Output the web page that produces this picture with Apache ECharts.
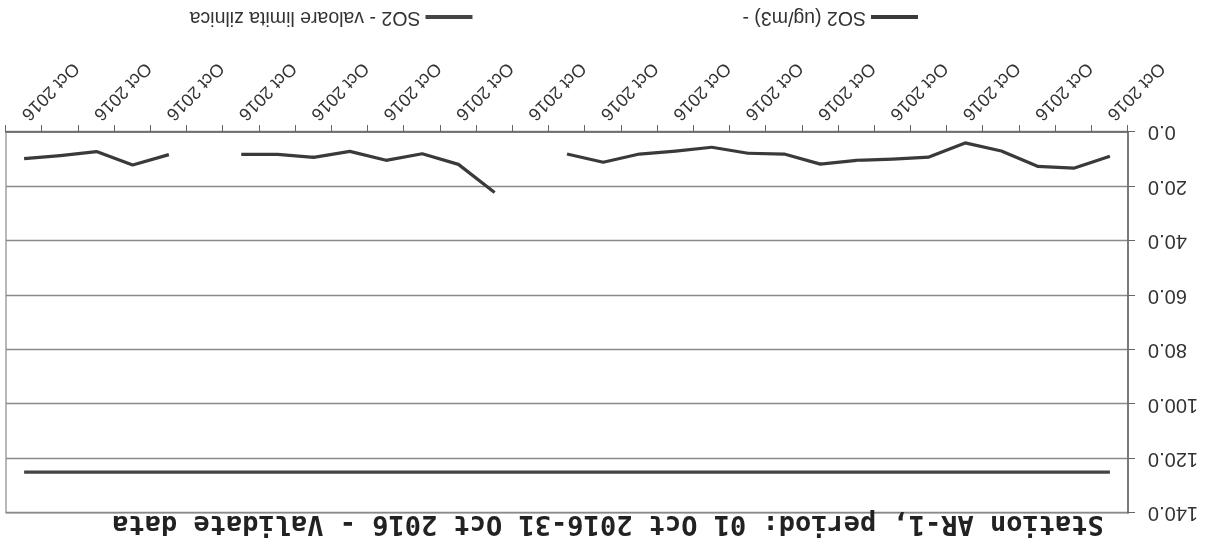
<!DOCTYPE html>
<html>
<head>
<meta charset="utf-8">
<script src="https://cdn.jsdelivr.net/npm/echarts@6/dist/echarts.min.js"></script>
<style>
html,body{margin:0;padding:0;background:#fff;}
#chart{width:1216px;height:551px;transform:rotate(180deg);transform-origin:50% 50%;}
</style>
</head>
<body>
<div id="chart"></div>
<script>
// Categories: days of October 2016 (day number is clipped off in the reference labels)
const categories = ['01 Oct 2016','02 Oct 2016','03 Oct 2016','04 Oct 2016','05 Oct 2016','06 Oct 2016','07 Oct 2016','08 Oct 2016','09 Oct 2016','10 Oct 2016','11 Oct 2016','12 Oct 2016','13 Oct 2016','14 Oct 2016','15 Oct 2016','16 Oct 2016','17 Oct 2016','18 Oct 2016','19 Oct 2016','20 Oct 2016','21 Oct 2016','22 Oct 2016','23 Oct 2016','24 Oct 2016','25 Oct 2016','26 Oct 2016','27 Oct 2016','28 Oct 2016','29 Oct 2016','30 Oct 2016','31 Oct 2016'];
// Visible tick label text (day digits clipped in the reference)
const tickLabel = ' Oct 2016';
// SO2 daily values (ug/m3); null = missing day
const so2 = [8.9, 13.3, 12.6, 7.0, 4.0, 9.2, 10.0, 10.4, 11.8, 8.1, 7.8, 5.6, 7.0, 8.1, 11.1, 8.1, null, 22.2, 11.9, 8.0, 10.4, 7.1, 9.3, 8.2, 8.2, null, 8.3, 12.1, 7.2, 8.7, 9.8];
// SO2 daily limit value
const limit = [125,125,125,125,125,125,125,125,125,125,125,125,125,125,125,125,125,125,125,125,125,125,125,125,125,125,125,125,125,125,125];
const seriesNames = ['SO2 (ug/m3) -', 'SO2 - valoare limita zilnica'];
const titleText = 'Station AR-1, period: 01 Oct 2016-31 Oct 2016 - Validate data';

const chart = echarts.init(document.getElementById('chart'), null, {renderer:'canvas'});
chart.setOption({
  animation:false,
  backgroundColor:'#ffffff',
  title:{
    text:titleText,
    left:'center',
    top:9,
    textStyle:{fontFamily:'DejaVu Sans Mono', fontWeight:'bold', fontSize:27, color:'#222'}
  },
  legend:{
    data:seriesNames,
    left:293,
    top:519,
    itemWidth:47,
    itemHeight:4,
    itemGap:270,
    icon:'rect',
    textStyle:{fontFamily:'Liberation Sans', fontSize:19.5, color:'#333'}
  },
  grid:{left:88, right:6, top:38, bottom:132, show:true, borderColor:'#8a8a8a', borderWidth:1.2},
  xAxis:{
    type:'category',
    data:categories,
    boundaryGap:true,
    axisLine:{lineStyle:{color:'#666', width:1.5}},
    axisTick:{show:true, interval:0, length:7, lineStyle:{color:'#666'}},
    axisLabel:{
      interval:1,
      rotate:45,
      margin:15,
      fontFamily:'Liberation Sans',
      fontSize:18,
      color:'#333',
      formatter:function(){return tickLabel;}
    },
    splitLine:{show:false}
  },
  yAxis:{
    type:'value',
    min:0, max:140, interval:20,
    axisLine:{show:true, lineStyle:{color:'#666', width:1.5}},
    axisTick:{show:true, length:7, lineStyle:{color:'#666'}},
    axisLabel:{margin:20, fontFamily:'Liberation Sans', fontSize:20, color:'#333',
      formatter:function(v){return v.toFixed(1);}},
    splitLine:{lineStyle:{color:'#8a8a8a', width:1.3}}
  },
  series:[
    {name:seriesNames[0], type:'line', data:so2, symbol:'none', connectNulls:false,
      lineStyle:{color:'#3a3a3a', width:3.2}, itemStyle:{color:'#3a3a3a'}},
    {name:seriesNames[1], type:'line', data:limit, symbol:'none',
      lineStyle:{color:'#444', width:3.2}, itemStyle:{color:'#444'}}
  ]
});
</script>
</body>
</html>
